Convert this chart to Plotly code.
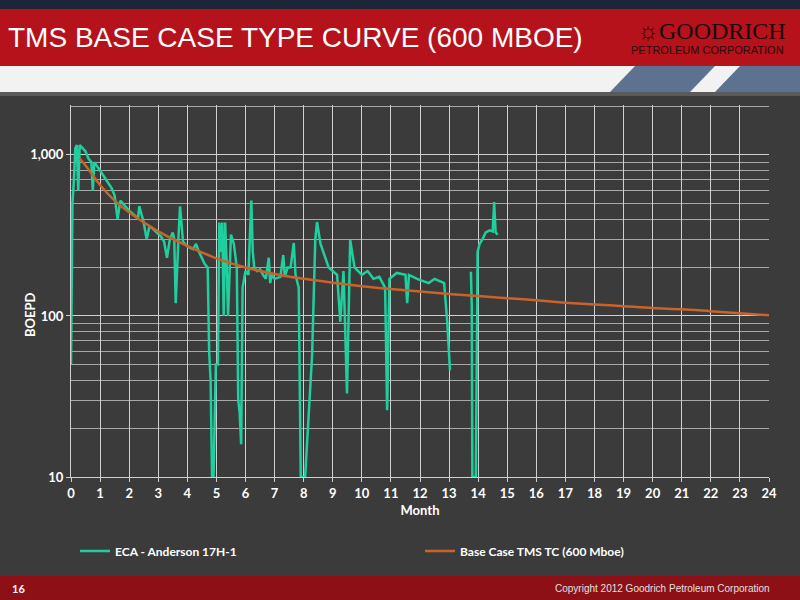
import plotly.graph_objects as go

# ECA - Anderson 17H-1 actual production (month, BOEPD); None = no data
eca_month = [0.0, 0.05, 0.1, 0.15, 0.2, 0.25, 0.3, 0.4, 0.5, 0.6, 0.7, 0.75, 0.8, 1.0, 1.2, 1.4, 1.5,
             1.6, 1.7, 2.0, 2.2, 2.3, 2.35, 2.5, 2.6, 2.7, 2.8, 3.0, 3.1, 3.2, 3.3, 3.4, 3.5, 3.55,
             3.6, 3.7, 3.75, 3.85, 4.0, 4.2, 4.3, 4.4, 4.5, 4.6, 4.7, 4.75, 4.8, 4.85, 4.9, 4.98,
             5.05, 5.1, 5.15, 5.2, 5.25, 5.3, 5.35, 5.4, 5.5, 5.6, 5.7, 5.75, 5.8, 5.85, 5.9, 6.0,
             6.1, 6.2, 6.25, 6.3, 6.4, 6.5, 6.6, 6.7, 6.8, 6.85, 6.9, 7.0, 7.2, 7.3, 7.35, 7.45,
             7.55, 7.66, 7.72, 7.83, 7.9, 7.97, 8.05, 8.29, 8.4, 8.46, 8.58, 8.86, 9.0, 9.15, 9.26,
             9.37, 9.49, 9.6, 9.75, 10.0, 10.2, 10.4, 10.6, 10.8, 10.87, 10.95, 11.2, 11.5, 11.56,
             11.62, 11.9, 12.1, 12.3, 12.5, 12.7, 12.83, 12.94, 13.03, 13.04, 13.75, 13.78, 13.8,
             13.92, 13.98, 14.05, 14.15, 14.26, 14.4, 14.5, 14.55, 14.6, 14.67]
eca_boepd = [50, 500, 700, 1100, 1150, 600, 1150, 1100, 1050, 950, 900, 600, 900, 800, 700, 620, 560,
             400, 520, 450, 420, 400, 480, 380, 300, 360, 350, 320, 310, 290, 230, 300, 330, 300,
             120, 320, 480, 290, 270, 260, 280, 250, 230, 210, 200, 60, 40, 10, 10, 50,
             50, 380, 250, 380, 100, 380, 220, 100, 320, 280, 200, 30, 25, 16, 150, 190,
             180, 520, 250, 200, 190, 195, 180, 170, 230, 160, 180, 170, 175, 239, 175, 200,
             200, 284, 180, 150, 10, 10, 10, 57, 300, 383, 280, 200, 190, 180, 92,
             190, 33, 296, 200, 180, 190, 170, 175, 150, 26, 170, 185, 180, 120,
             180, 170, 165, 160, 170, 165, 160, 90, 46, None, 188, 115, 10,
             10, 250, 280, 300, 330, 340, 335, 510, 330, 320]

# Base Case TMS type curve (600 Mboe)
tc_month = [0.3, 0.5, 1, 1.5, 2, 3, 4, 5, 6, 7, 8, 9, 10, 11, 12, 13, 14, 15, 16, 17, 18, 19, 20,
            21, 22, 23, 24]
tc_boepd = [950, 860, 650, 520, 440, 335, 272, 228, 200, 182, 170, 161, 153, 147, 142, 137, 133,
            129, 125, 121, 118, 115, 112, 110, 107, 104, 101]

month_ticks = list(range(0, 25))
major_y = [10, 100, 1000]
minor_y = [v * m for m in (10, 100, 1000) for v in range(2, 10) if v * m <= 2000]

fig = go.Figure()
fig.add_trace(go.Scatter(x=eca_month, y=eca_boepd, mode='lines', name='ECA - Anderson 17H-1',
                         line=dict(color='#1fcf9d', width=2.5), connectgaps=False))
fig.add_trace(go.Scatter(x=tc_month, y=tc_boepd, mode='lines', name='Base Case TMS TC (600 Mboe)',
                         line=dict(color='#c8642a', width=2.5, shape='spline')))

fig.update_layout(
    width=800, height=600,
    margin=dict(l=71, r=31, t=105, b=123),
    paper_bgcolor='#3b3b3b', plot_bgcolor='#3b3b3b',
    font=dict(family='Lato, Open Sans, sans-serif', color='white', size=13),
    showlegend=True,
    legend=dict(orientation='h', x=0.5, xanchor='center', y=-0.16, yanchor='top',
                font=dict(size=12, color='white', weight='bold'), entrywidth=300),
    xaxis=dict(range=[0, 24], tickvals=month_ticks, showgrid=True, gridcolor='#d0d0d0',
               gridwidth=1, zeroline=False, showline=True, linecolor='#d0d0d0',
               ticks='outside', tickcolor='#d0d0d0', ticklen=4,
               tickfont=dict(size=13, color='white', weight='bold'),
               title=dict(text='Month', font=dict(size=13, weight='bold'), standoff=6)),
    yaxis=dict(type='log', range=[1, 3.31], tickvals=major_y, ticktext=['10', '100', '1,000'],
               showgrid=True, gridcolor='#d0d0d0', zeroline=False, showline=True,
               linecolor='#d0d0d0', ticks='outside', tickcolor='#d0d0d0', ticklen=4,
               tickfont=dict(size=13, color='white', weight='bold'),
               minor=dict(tickvals=minor_y, showgrid=True, gridcolor='#a8a8a8', ticks='')),
)

# header: dark strip, red band, white band with blue slants; footer band
header = [
    dict(y0=0, y1=9, color='#1c2636'),
    dict(y0=9, y1=66, color='#b5121b'),
    dict(y0=66, y1=92, color='#f2f2f2'),
    dict(y0=92, y1=96, color='#5a5a5a'),
    dict(y0=576, y1=600, color='#8c1016'),
]
ph = 600 - 105 - 123
pw = 800 - 71 - 31
def ypix(p):
    return 1 - (p - 105) / ph
def xpix(p):
    return (p - 71) / pw
for h in header:
    fig.add_shape(type='rect', xref='paper', yref='paper', x0=xpix(0), x1=xpix(800),
                  y0=ypix(h['y1']), y1=ypix(h['y0']), fillcolor=h['color'], line_width=0,
                  layer='below')
fig.add_shape(type='path', xref='paper', yref='paper', layer='below', line_width=0,
              fillcolor='#5c7290',
              path=f"M {xpix(610)},{ypix(92)} L {xpix(635)},{ypix(66)} L {xpix(800)},{ypix(66)} "
                   f"L {xpix(800)},{ypix(92)} Z")
fig.add_shape(type='path', xref='paper', yref='paper', layer='below', line_width=0,
              fillcolor='#f2f2f2',
              path=f"M {xpix(690)},{ypix(92)} L {xpix(715)},{ypix(66)} L {xpix(740)},{ypix(66)} "
                   f"L {xpix(715)},{ypix(92)} Z")

fig.add_annotation(xref='paper', yref='paper', x=xpix(30), y=ypix(315), textangle=-90,
                   xanchor='center', yanchor='middle', showarrow=False, text='BOEPD',
                   font=dict(size=13, color='white', weight='bold'))
fig.add_annotation(xref='paper', yref='paper', x=xpix(6), y=ypix(38), xanchor='left',
                   yanchor='middle', showarrow=False,
                   text='TMS BASE CASE TYPE CURVE (600 MBOE)',
                   font=dict(family='Liberation Sans Narrow, Liberation Sans, Arial', size=28,
                             color='white'))
fig.add_annotation(xref='paper', yref='paper', x=xpix(788), y=ypix(31), xanchor='right',
                   yanchor='middle', showarrow=False, text='☼GOODRICH',
                   font=dict(family='Liberation Serif, serif', size=24, color='#1a0a0a'))
fig.add_annotation(xref='paper', yref='paper', x=xpix(786), y=ypix(50), xanchor='right',
                   yanchor='middle', showarrow=False, text='PETROLEUM CORPORATION',
                   font=dict(family='Liberation Sans Narrow, Liberation Sans', size=11,
                             color='#2a0a0a'))
fig.add_annotation(xref='paper', yref='paper', x=xpix(10), y=ypix(588), xanchor='left',
                   yanchor='middle', showarrow=False, text='16',
                   font=dict(size=11, color='white', weight='bold'))
fig.add_annotation(xref='paper', yref='paper', x=xpix(772), y=ypix(588), xanchor='right',
                   yanchor='middle', showarrow=False,
                   text='Copyright 2012 Goodrich Petroleum Corporation',
                   font=dict(family='Liberation Sans, Arial', size=10, color='#e0e0e0'))

fig.write_html("out.html", config={'displayModeBar': False},
               post_script="document.body.style.margin='0';")
